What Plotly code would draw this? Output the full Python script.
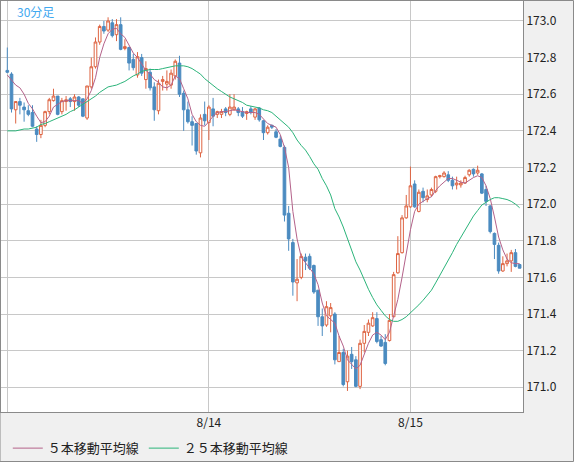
import plotly.graph_objects as go

# 30-minute bars (x = bar number, day boundaries at 0 / 48 / 96)
opens = [172.73, 172.71, 172.515, 172.56, 172.53, 172.51, 172.50, 172.41, 172.38, 172.43,
         172.505, 172.565, 172.59, 172.505, 172.56, 172.575, 172.56, 172.585, 172.575, 172.47,
         172.64, 172.75, 172.885, 172.97, 172.95, 172.99, 172.925, 172.98, 172.85, 172.855,
         172.79, 172.705, 172.80, 172.68, 172.72, 172.64, 172.51, 172.67, 172.655, 172.65,
         172.70, 172.77, 172.605, 172.515, 172.45, 172.44, 172.28, 172.49, 172.445, 172.52,
         172.49, 172.49, 172.52, 172.49, 172.515, 172.52, 172.505, 172.495, 172.52, 172.475,
         172.525, 172.455, 172.39, 172.43, 172.395, 172.355, 172.31, 171.95, 171.79, 171.57,
         171.60, 171.71, 171.715, 171.665, 171.53, 171.385, 171.34, 171.39, 171.40, 171.14,
         171.19, 171.03, 171.18, 171.15, 171.005, 171.24, 171.30, 171.335, 171.375, 171.26,
         171.245, 171.255, 171.385, 171.625, 171.735, 171.925, 171.985, 172.11, 171.96, 172.07,
         172.025, 172.05, 172.07, 172.15, 172.15, 172.16, 172.13, 172.105, 172.105, 172.115,
         172.16, 172.19, 172.17, 172.165, 172.08, 171.99, 171.84, 171.775, 171.635, 171.675,
         171.69, 171.735, 171.67]
highs = [172.855, 172.72, 172.56, 172.58, 172.555, 172.54, 172.54, 172.425, 172.46, 172.51,
         172.58, 172.63, 172.59, 172.58, 172.59, 172.585, 172.60, 172.59, 172.575, 172.645,
         172.80, 172.91, 172.98, 173.0, 173.02, 173.01, 173.01, 173.02, 172.90, 172.86,
         172.82, 172.83, 172.82, 172.78, 172.74, 172.665, 172.68, 172.70, 172.73, 172.735,
         172.79, 172.81, 172.62, 172.56, 172.48, 172.44, 172.49, 172.56, 172.54, 172.58,
         172.51, 172.52, 172.53, 172.60, 172.60, 172.53, 172.53, 172.51, 172.535, 172.525,
         172.53, 172.46, 172.43, 172.435, 172.41, 172.375, 172.32, 171.99, 171.81, 171.70,
         171.73, 171.73, 171.73, 171.67, 171.53, 171.43, 171.47, 171.46, 171.41, 171.28,
         171.21, 171.20, 171.22, 171.17, 171.26, 171.34, 171.37, 171.41, 171.41, 171.28,
         171.29, 171.40, 171.63, 171.825, 171.94, 172.05, 172.205, 172.13, 172.08, 172.09,
         172.08, 172.09, 172.155, 172.16, 172.18, 172.18, 172.15, 172.15, 172.13, 172.155,
         172.19, 172.195, 172.21, 172.17, 172.10, 171.995, 171.845, 171.79, 171.715, 171.73,
         171.75, 171.755, 171.67]
lows = [172.715, 172.50, 172.44, 172.49, 172.45, 172.48, 172.42, 172.34, 172.36, 172.42,
        172.49, 172.56, 172.485, 172.49, 172.51, 172.53, 172.51, 172.53, 172.475, 172.46,
        172.63, 172.74, 172.87, 172.93, 172.94, 172.91, 172.89, 172.84, 172.84, 172.73,
        172.73, 172.69, 172.70, 172.63, 172.62, 172.455, 172.49, 172.62, 172.62, 172.63,
        172.68, 172.585, 172.40, 172.44, 172.32, 172.27, 172.255, 172.43, 172.35, 172.425,
        172.47, 172.47, 172.48, 172.48, 172.51, 172.48, 172.47, 172.46, 172.49, 172.46,
        172.45, 172.35, 172.38, 172.41, 172.36, 172.31, 171.905, 171.745, 171.50, 171.47,
        171.59, 171.64, 171.64, 171.51, 171.335, 171.28, 171.33, 171.30, 171.125, 171.14,
        171.005, 170.98, 171.10, 171.0, 170.99, 171.19, 171.28, 171.33, 171.24, 171.22,
        171.12, 171.25, 171.385, 171.62, 171.73, 171.92, 171.98, 171.98, 171.955, 172.01,
        172.01, 172.04, 172.06, 172.14, 172.145, 172.12, 172.08, 172.08, 172.09, 172.11,
        172.15, 172.15, 172.16, 172.055, 171.99, 171.84, 171.70, 171.62, 171.63, 171.66,
        171.63, 171.655, 171.65]
closes = [172.72, 172.52, 172.56, 172.54, 172.515, 172.49, 172.425, 172.38, 172.43, 172.505,
          172.57, 172.59, 172.49, 172.565, 172.57, 172.56, 172.585, 172.54, 172.48, 172.645,
          172.75, 172.885, 172.97, 172.945, 173.0, 172.92, 172.98, 172.845, 172.86, 172.77,
          172.745, 172.805, 172.715, 172.74, 172.635, 172.515, 172.66, 172.68, 172.67, 172.715,
          172.78, 172.60, 172.515, 172.45, 172.43, 172.29, 172.47, 172.455, 172.53, 172.48,
          172.505, 172.505, 172.50, 172.53, 172.53, 172.50, 172.48, 172.505, 172.50, 172.52,
          172.46, 172.39, 172.42, 172.42, 172.365, 172.315, 171.94, 171.81, 171.575, 171.59,
          171.715, 171.69, 171.65, 171.52, 171.385, 171.335, 171.44, 171.435, 171.15, 171.19,
          171.015, 171.17, 171.14, 171.005, 171.24, 171.305, 171.35, 171.38, 171.25, 171.225,
          171.13, 171.365, 171.615, 171.73, 171.925, 171.99, 172.10, 171.985, 172.065, 172.035,
          172.045, 172.08, 172.15, 172.155, 172.17, 172.13, 172.10, 172.115, 172.115, 172.145,
          172.185, 172.165, 172.185, 172.06, 172.015, 171.85, 171.78, 171.635, 171.675, 171.69,
          171.735, 171.66, 171.65]

# moving averages as drawn on the chart
ma5 = [172.705, 172.68, 172.65, 172.635, 172.60, 172.55, 172.52, 172.48, 172.445, 172.45,
       172.48, 172.53, 172.545, 172.56, 172.565, 172.565, 172.565, 172.565, 172.55, 172.575,
       172.62, 172.69, 172.80, 172.875, 172.93, 172.955, 172.96, 172.93, 172.91, 172.87,
       172.825, 172.80, 172.765, 172.73, 172.71, 172.68, 172.665, 172.64, 172.635, 172.65,
       172.70, 172.685, 172.63, 172.575, 172.49, 172.45, 172.43, 172.425, 172.45, 172.48,
       172.50, 172.505, 172.505, 172.51, 172.515, 172.51, 172.505, 172.50, 172.50, 172.50,
       172.49, 172.465, 172.44, 172.43, 172.42, 172.38, 172.31, 172.20, 171.96, 171.81,
       171.71, 171.68, 171.65, 171.62, 171.56, 171.46, 171.39, 171.37, 171.35, 171.28,
       171.225, 171.15, 171.125, 171.10, 171.12, 171.18, 171.24, 171.285, 171.30, 171.285,
       171.26, 171.30, 171.39, 171.48, 171.60, 171.73, 171.86, 171.96, 172.00, 172.015,
       172.03, 172.04, 172.075, 172.10, 172.12, 172.14, 172.14, 172.13, 172.12, 172.115,
       172.13, 172.145, 172.155, 172.145, 172.10, 172.03, 171.93, 171.82, 171.75, 171.70,
       171.68, 171.675, 171.675]
ma25 = [172.40, 172.40, 172.40, 172.405, 172.41, 172.41, 172.415, 172.42, 172.435, 172.44,
        172.45, 172.46, 172.47, 172.48, 172.49, 172.505, 172.515, 172.53, 172.545, 172.56,
        172.575, 172.59, 172.61, 172.625, 172.64, 172.645, 172.65, 172.66, 172.67, 172.685,
        172.70, 172.71, 172.725, 172.73, 172.735, 172.735, 172.735, 172.74, 172.745, 172.75,
        172.755, 172.755, 172.755, 172.75, 172.74, 172.725, 172.71, 172.685, 172.665, 172.645,
        172.63, 172.615, 172.60, 172.585, 172.575, 172.565, 172.555, 172.54, 172.535, 172.53,
        172.525, 172.515, 172.51, 172.50, 172.48, 172.465, 172.44, 172.42, 172.39, 172.35,
        172.32, 172.295, 172.26, 172.22, 172.19, 172.14, 172.10, 172.05, 171.975, 171.93,
        171.875, 171.81, 171.745, 171.685, 171.64, 171.585, 171.535, 171.49, 171.45, 171.42,
        171.39, 171.37, 171.36, 171.36, 171.37, 171.385, 171.405, 171.425, 171.45, 171.475,
        171.50, 171.53, 171.57, 171.61, 171.655, 171.695, 171.735, 171.78, 171.82, 171.86,
        171.895, 171.935, 171.965, 171.995, 172.01, 172.025, 172.035, 172.035, 172.03, 172.025,
        172.015, 172.00, 171.98]

bars = list(range(len(closes)))
day_ticks = [0, 48, 96]
day_labels = ["", "8/14", "8/15"]

fig = go.Figure()

# candles: hollow red up, solid blue down
fig.add_trace(go.Candlestick(
    x=bars, open=opens, high=highs, low=lows, close=closes,
    increasing=dict(line=dict(color="#de6442", width=1), fillcolor="#ffffff"),
    decreasing=dict(line=dict(color="#4b8bc0", width=1), fillcolor="#4b8bc0"),
    showlegend=False, hoverinfo="skip"))

fig.add_trace(go.Scatter(x=bars, y=ma5, mode="lines", name="５本移動平均線",
                         line=dict(color="#b4628a", width=1)))
fig.add_trace(go.Scatter(x=bars, y=ma25, mode="lines", name="２５本移動平均線",
                         line=dict(color="#2bb47a", width=1)))

fig.update_layout(
    width=574, height=462,
    margin=dict(l=1, r=51, t=1, b=50, autoexpand=False),
    paper_bgcolor="#f0f0f0", plot_bgcolor="#ffffff",
    font=dict(family="Noto Sans CJK JP", size=12, color="#222222"),
    legend=dict(orientation="h", x=0.013, y=-0.088, xanchor="left", yanchor="middle",
                bgcolor="rgba(0,0,0,0)", font=dict(size=13), itemwidth=30),
    showlegend=True,
    boxgap=0.1,
)

fig.update_xaxes(
    range=[-1.5, 122.8], rangeslider=dict(visible=False), automargin=False,
    tickmode="array", tickvals=day_ticks, ticktext=day_labels,
    showgrid=True, gridcolor="#c8c8c8", gridwidth=1, zeroline=False,
    showline=True, linecolor="#8a8a8a", linewidth=1, mirror=True, ticks="")

fig.update_yaxes(
    range=[170.865, 173.109], side="right", dtick=0.2, tick0=171.0, tickformat=".1f",
    automargin=False,
    showgrid=True, gridcolor="#c8c8c8", gridwidth=1, zeroline=False,
    showline=True, linecolor="#8a8a8a", linewidth=1, mirror=True, ticks="")

# chart caption top-left
fig.add_annotation(text="30分足", xref="paper", yref="paper", x=0.027, y=1.0,
                   xanchor="left", yanchor="top", showarrow=False,
                   font=dict(size=12, color="#3fa9f0"))

# outer frame of the whole picture
fig.add_shape(type="rect", xref="paper", yref="paper", x0=-1 / 522, x1=572.5 / 522,
              y0=-49.5 / 411, y1=1 + 0.5 / 411, line=dict(color="#8a8a8a", width=1))

# page body margin off so the figure sits at the window corner
fig.write_html("out.html", config={"displayModeBar": False},
               post_script="document.body.style.margin='0';")
